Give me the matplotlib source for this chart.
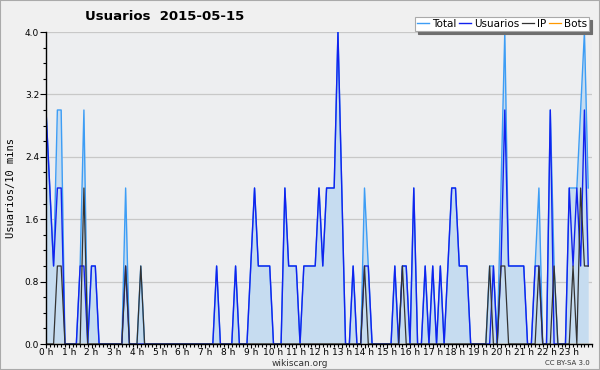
import numpy as np
import matplotlib
matplotlib.use("Agg")
import matplotlib.pyplot as plt
from matplotlib.ticker import MultipleLocator

# values per 10 minutes, one row per 4 hours
total = [3, 2, 1, 3, 3, 0, 0, 0, 0, 1, 3, 0, 1, 1, 0, 0, 0, 0, 0, 0, 0, 2, 0, 0,
         0, 1, 0, 0, 0, 0, 0, 0, 0, 0, 0, 0, 0, 0, 0, 0, 0, 0, 0, 0, 0, 1, 0, 0,
         0, 0, 1, 0, 0, 0, 1, 2, 1, 1, 1, 1, 0, 0, 0, 2, 1, 1, 1, 0, 1, 1, 1, 1,
         2, 1, 2, 2, 2, 4, 2, 0, 0, 1, 0, 0, 2, 1, 0, 0, 0, 0, 0, 0, 1, 0, 1, 1,
         0, 2, 0, 0, 1, 0, 1, 0, 1, 0, 1, 2, 2, 1, 1, 1, 0, 0, 0, 0, 0, 1, 1, 0,
         2, 4, 1, 1, 1, 1, 1, 0, 0, 1, 2, 0, 0, 3, 1, 0, 0, 0, 2, 2, 2, 3, 4, 2]

usuarios = [3, 2, 1, 2, 2, 0, 0, 0, 0, 1, 1, 0, 1, 1, 0, 0, 0, 0, 0, 0, 0, 1, 0, 0,
            0, 0, 0, 0, 0, 0, 0, 0, 0, 0, 0, 0, 0, 0, 0, 0, 0, 0, 0, 0, 0, 1, 0, 0,
            0, 0, 1, 0, 0, 0, 1, 2, 1, 1, 1, 1, 0, 0, 0, 2, 1, 1, 1, 0, 1, 1, 1, 1,
            2, 1, 2, 2, 2, 4, 2, 0, 0, 1, 0, 0, 1, 1, 0, 0, 0, 0, 0, 0, 1, 0, 1, 1,
            0, 2, 0, 0, 1, 0, 1, 0, 1, 0, 1, 2, 2, 1, 1, 1, 0, 0, 0, 0, 0, 0, 1, 0,
            1, 3, 1, 1, 1, 1, 1, 0, 0, 1, 1, 0, 0, 3, 0, 0, 0, 0, 2, 1, 2, 1, 3, 1]

ip = [0, 0, 0, 1, 1, 0, 0, 0, 0, 0, 2, 0, 0, 0, 0, 0, 0, 0, 0, 0, 0, 1, 0, 0,
      0, 1, 0, 0, 0, 0, 0, 0, 0, 0, 0, 0, 0, 0, 0, 0, 0, 0, 0, 0, 0, 0, 0, 0,
      0, 0, 0, 0, 0, 0, 0, 0, 0, 0, 0, 0, 0, 0, 0, 0, 0, 0, 0, 0, 0, 0, 0, 0,
      0, 0, 0, 0, 0, 0, 0, 0, 0, 0, 0, 0, 1, 0, 0, 0, 0, 0, 0, 0, 0, 0, 1, 0,
      0, 0, 0, 0, 0, 0, 0, 0, 0, 0, 0, 0, 0, 0, 0, 0, 0, 0, 0, 0, 0, 1, 0, 0,
      1, 1, 0, 0, 0, 0, 0, 0, 0, 0, 1, 0, 0, 0, 1, 0, 0, 0, 0, 1, 0, 2, 1, 1]

bots = [0] * 144

hour_labels = ["%d h" % h for h in range(24)]

x = np.arange(len(total))

fig = plt.figure(figsize=(6, 3.7), dpi=100, facecolor="#f0f0f0")
ax = fig.add_axes([46 / 600, 26 / 370, 546 / 600, 312 / 370])
ax.set_facecolor("#edeef0")

ax.fill_between(x, total, 0, color="#c6dcf0", lw=0, zorder=1)
ax.plot(x, bots, color="#ff9900", lw=0.9, label="Bots", zorder=2)
ax.plot(x, total, color="#3d9df5", lw=1.0, label="Total", zorder=3)
ax.plot(x, usuarios, color="#1122ee", lw=1.0, label="Usuarios", zorder=4)
ax.plot(x, ip, color="#333333", lw=0.9, label="IP", zorder=5)

ax.set_xlim(0, 144)
ax.set_ylim(0, 4.0)
ax.set_yticks(np.arange(0, 4.01, 0.8))
ax.set_yticklabels(["%.1f" % v for v in np.arange(0, 4.01, 0.8)])
ax.yaxis.set_minor_locator(MultipleLocator(0.2))
ax.set_xticks(np.arange(0, 144, 6))
ax.set_xticklabels(hour_labels)
ax.xaxis.set_minor_locator(MultipleLocator(1))

ax.tick_params(axis="y", which="major", labelsize=6.5, length=4, width=0.8,
               direction="out", pad=1)
ax.tick_params(axis="x", which="major", labelsize=6.5, length=3, width=0.8,
               direction="out", pad=0)
ax.tick_params(axis="both", which="minor", length=2.5, width=0.8, direction="out")

ax.grid(axis="y", which="major", color="#c8c8c8", lw=0.9, zorder=0)
ax.set_axisbelow(True)
for s in ["top", "right"]:
    ax.spines[s].set_visible(False)
for s in ["left", "bottom"]:
    ax.spines[s].set_linewidth(1.0)
    ax.spines[s].set_zorder(6)

ax.set_ylabel("Usuarios/10 mins", fontsize=7.5, family="DejaVu Sans Mono", labelpad=6)

fig.text(85 / 600, 1 - 16 / 370, "Usuarios  2015-05-15", fontsize=9.5,
         fontweight="bold", va="center", ha="left")
fig.text(300 / 600, 1 - 363 / 370, "wikiscan.org", fontsize=6.5, ha="center",
         va="center", color="#333333")
fig.text(590 / 600, 1 - 363 / 370, "CC BY-SA 3.0", fontsize=5, ha="right",
         va="center", color="#333333")

handles, labels = ax.get_legend_handles_labels()
order = [1, 2, 3, 0]
leg = fig.legend([handles[i] for i in order], [labels[i] for i in order],
                 loc="upper right", bbox_to_anchor=(589 / 600, 1 - 17 / 370),
                 ncol=4, fontsize=7.5, frameon=True, fancybox=False,
                 shadow={"color": "#6e6e6e", "alpha": 1},
                 handlelength=1.1, handletextpad=0.3, columnspacing=0.3,
                 borderpad=0.2, borderaxespad=0)
leg.get_frame().set_edgecolor("#aaaaaa")
leg.get_frame().set_linewidth(0.8)

# thin border round the whole picture
fig.patches.append(plt.Rectangle((0, 0), 1, 1, transform=fig.transFigure,
                                 fill=False, edgecolor="#aaaaaa", lw=1.5))

fig.savefig("out.png", dpi=100, facecolor=fig.get_facecolor())
